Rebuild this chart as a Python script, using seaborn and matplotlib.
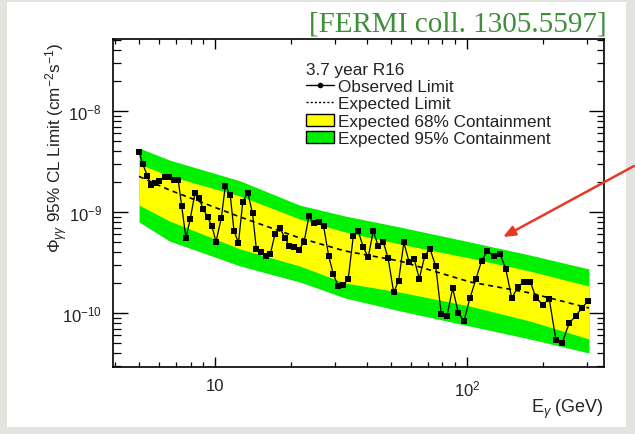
import numpy as np
import pandas as pd
import matplotlib
matplotlib.use("Agg")
import matplotlib.pyplot as plt
import seaborn as sns
from matplotlib.lines import Line2D
from matplotlib.patches import Patch, Rectangle
from matplotlib.ticker import LogLocator, NullFormatter

# ---------------- data ----------------
energy_obs = [5.0, 5.17, 5.39, 5.56, 5.78, 6.01, 6.33, 6.59, 6.88, 7.15,
              7.38, 7.67, 7.98, 8.33, 8.64, 8.99, 9.36, 9.73, 10.1, 10.6,
              11.0, 11.5, 11.9, 12.4, 12.9, 13.5, 14.1, 14.6, 15.3, 15.9,
              16.6, 17.3, 18.1, 19.0, 19.7, 20.6, 21.5, 22.6, 23.6, 24.7,
              25.8, 27.0, 28.3, 29.5, 30.9, 32.3, 33.8, 35.4, 37.0, 38.8,
              40.6, 42.5, 44.5, 46.6, 48.7, 51.2, 53.6, 56.2, 59.0, 61.7,
              64.7, 68.1, 71.3, 75.2, 79.1, 83.3, 87.8, 92.4, 97.3, 102.8,
              108.6, 114.4, 120.6, 127.6, 135.2, 142.6, 150.6, 159.4, 168.7, 178.3,
              188.4, 200.3, 212.2, 225.5, 238.9, 254.7, 270.2, 285.3, 302.1]
# observed limit in units of 1e-10 cm^-2 s^-1
limit_obs = [39.5, 29.9, 22.9, 18.5, 19.4, 20.4, 22.4, 22.4, 20.7, 20.7,
             11.5, 5.53, 8.52, 15.3, 13.7, 10.7, 8.86, 7.22, 5.08, 8.72,
             18.2, 14.8, 6.53, 4.93, 12.7, 15.5, 9.71, 4.30, 3.99, 3.63,
             3.84, 6.02, 6.94, 5.49, 4.64, 4.55, 4.18, 5.08, 9.03, 7.78,
             8.05, 7.22, 3.64, 2.42, 1.83, 1.88, 2.17, 5.72, 6.53, 4.47,
             3.58, 6.48, 4.58, 5.01, 3.48, 1.60, 2.09, 5.01, 3.18, 3.45,
             2.19, 3.69, 4.33, 2.92, 0.977, 0.927, 1.76, 1.01, 0.828, 1.40,
             2.17, 3.29, 4.14, 3.64, 3.87, 2.75, 1.40, 1.80, 2.05, 2.05,
             1.40, 1.21, 1.38, 0.544, 0.508, 0.793, 0.934, 1.11, 1.31]

energy_band = [5.0, 6.6, 12.6, 21.7, 32.8, 54.2, 102.8, 177.8, 305.0]
expected = [22.5, 16.5, 8.92, 5.53, 4.11, 3.27, 2.03, 1.58, 1.12]
band68_hi = [29.9, 22.7, 14.4, 8.52, 6.34, 4.82, 3.50, 2.60, 1.85]
band68_lo = [11.7, 8.15, 4.30, 2.92, 1.98, 1.61, 1.17, 0.833, 0.553]
band95_hi = [43.0, 32.7, 20.3, 11.7, 9.13, 7.10, 5.05, 3.75, 2.73]
band95_lo = [7.96, 5.16, 2.92, 2.03, 1.41, 1.05, 0.743, 0.553, 0.402]
unit = 1e-10

x_tick_vals = [10, 100]
x_tick_labels = ["10", r"10$^{2}$"]
y_tick_vals = [1e-10, 1e-9, 1e-8]
y_tick_labels = [r"10$^{-10}$", r"10$^{-9}$", r"10$^{-8}$"]

legend_title = "3.7 year R16"
legend_labels = ["Observed Limit", "Expected Limit",
                 "Expected 68% Containment", "Expected 95% Containment"]

obs = pd.DataFrame({"E": energy_obs, "phi": np.array(limit_obs) * unit})
exp_df = pd.DataFrame({"E": energy_band, "phi": np.array(expected) * unit})

# ---------------- style ----------------
sns.set_theme(style="ticks")
plt.rcParams["font.family"] = ["Liberation Sans", "DejaVu Sans"]
plt.rcParams["mathtext.fontset"] = "custom"
plt.rcParams["mathtext.rm"] = "Liberation Sans"
plt.rcParams["mathtext.it"] = "Liberation Sans:italic"
plt.rcParams["mathtext.bf"] = "Liberation Sans:bold"

YELLOW = "#ffff00"
GREEN = "#00f000"
W, H = 635, 435

fig = plt.figure(figsize=(6.35, 4.35), dpi=100, facecolor="#e3e3df")
fig.patches.append(Rectangle((7 / W, 7 / H), (626 - 7) / W, (432 - 7) / H,
                             transform=fig.transFigure, facecolor="white",
                             edgecolor="none", zorder=-5))

ax = fig.add_axes([113 / W, (H - 368) / H, 491 / W, 328 / H])
ax.set_zorder(2)
ax.set_facecolor("white")

ax.fill_between(energy_band, np.array(band95_lo) * unit, np.array(band95_hi) * unit,
                color=GREEN, lw=0, zorder=1)
ax.fill_between(energy_band, np.array(band68_lo) * unit, np.array(band68_hi) * unit,
                color=YELLOW, lw=0, zorder=2)

sns.lineplot(data=exp_df, x="E", y="phi", ax=ax, color="black", lw=1.2,
             linestyle=(0, (3, 2.5)), zorder=3)
sns.lineplot(data=obs, x="E", y="phi", ax=ax, color="black", lw=0.9,
             marker="s", markersize=3.9, markeredgewidth=0, zorder=4)

ax.set_xscale("log")
ax.set_yscale("log")
ax.set_xlim(3.94, 350)
ax.set_ylim(2.92e-11, 5.16e-8)

ax.set_xticks(x_tick_vals)
ax.set_xticklabels(x_tick_labels)
ax.set_yticks(y_tick_vals)
ax.set_yticklabels(y_tick_labels)
ax.xaxis.set_minor_locator(LogLocator(base=10, subs=np.arange(2, 10)))
ax.yaxis.set_minor_locator(LogLocator(base=10, subs=np.arange(2, 10), numticks=20))
ax.xaxis.set_minor_formatter(NullFormatter())
ax.yaxis.set_minor_formatter(NullFormatter())

ax.tick_params(which="both", direction="in", top=True, right=True, color="black",
               labelcolor="#222222", labelsize=12)
ax.tick_params(axis="x", which="major", length=7, width=1.0, pad=8)
ax.tick_params(axis="x", which="minor", length=3.6, width=0.9)
ax.tick_params(axis="y", which="major", length=10.8, width=1.0, pad=8)
ax.tick_params(axis="y", which="minor", length=5.4, width=0.9)
for s in ax.spines.values():
    s.set_linewidth(1.2)
    s.set_color("black")

ax.set_xlabel(r"E$_{\gamma}$ (GeV)", fontsize=13, ha="right", va="center",
              color="#222222")
ax.xaxis.set_label_coords(1.0, (368 - 409) / 328)
ax.set_ylabel(r"$\Phi_{\gamma\gamma}$ 95% CL Limit (cm$^{-2}$s$^{-1}$)",
              fontsize=12.3, ha="right", va="center", color="#222222")
ax.yaxis.set_label_coords((57 - 113) / 491, (368 - 43) / 328)

handles = [Line2D([], [], color="black", marker="o", markersize=3, lw=1),
           Line2D([], [], color="black", linestyle=(0, (1.5, 1.5)), lw=1),
           Patch(facecolor=YELLOW, edgecolor="black", lw=1),
           Patch(facecolor=GREEN, edgecolor="black", lw=1)]
leg = ax.legend(handles, legend_labels, title=legend_title, loc="upper left",
                bbox_to_anchor=(306 / W, (H - 63) / H), bbox_transform=fig.transFigure,
                frameon=False, fontsize=12.3, title_fontsize=12.3, alignment="left",
                borderpad=0, borderaxespad=0, handlelength=1.65, handletextpad=0.25,
                labelspacing=0.13, handleheight=0.7)
for t in leg.get_texts():
    t.set_color("#222222")
leg.get_title().set_color("#222222")

fig.text(607 / W, (H - 32) / H, "[FERMI coll. 1305.5597]", ha="right", va="baseline",
         fontsize=21, color="#3f8f3a", family=["Liberation Serif", "DejaVu Serif"],
         zorder=5)

ax.annotate("", xy=(503, H - 238), xycoords="figure pixels",
            xytext=(634, H - 167), textcoords="figure pixels",
            arrowprops=dict(arrowstyle="-|>,head_length=0.6,head_width=0.25",
                            color="#e63a25", lw=1.8, shrinkA=0, shrinkB=0),
            annotation_clip=False)

fig.savefig("out.png", dpi=100, facecolor=fig.get_facecolor())
